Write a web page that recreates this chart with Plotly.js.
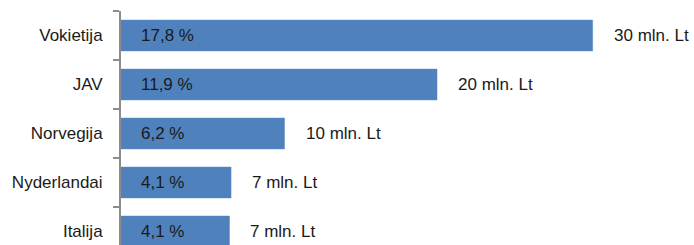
<!DOCTYPE html>
<html>
<head>
<meta charset="utf-8">
<script src="https://cdn.plot.ly/plotly-3.0.1.min.js"></script>
<style>html,body{margin:0;padding:0;background:#fff;}#chart{width:694px;height:245px;}</style>
</head>
<body>
<div id="chart"></div>
<script>
var categories = ["Vokietija", "JAV", "Norvegija", "Nyderlandai", "Italija"];
var values = [30, 20.1, 10.4, 7.0, 6.9];
var shareLabels = ["17,8 %", "11,9 %", "6,2 %", "4,1 %", "4,1 %"];
var valueLabels = ["30 mln. Lt", "20 mln. Lt", "10 mln. Lt", "7 mln. Lt", "7 mln. Lt"];

var FONT = "Liberation Sans Narrow, Arial Narrow, Liberation Sans, Arial, sans-serif";
var FS = 17;
var annotations = [];
for (var i = 0; i < categories.length; i++) {
  annotations.push({x: 0, y: categories[i], xref: "x", yref: "y", text: shareLabels[i],
    showarrow: false, xanchor: "left", yanchor: "middle", xshift: 18,
    font: {family: FONT, size: FS, color: "#1a1a1a"}});
  annotations.push({x: values[i], y: categories[i], xref: "x", yref: "y", text: valueLabels[i],
    showarrow: false, xanchor: "left", yanchor: "middle", xshift: 19,
    font: {family: FONT, size: FS, color: "#1a1a1a"}});
}

var trace = {
  type: "bar", orientation: "h",
  x: values, y: categories,
  marker: {color: "#4F81BD", line: {color: "#5B8CC6", width: 0.5}},
  hoverinfo: "none"
};

var layout = {
  width: 694, height: 245,
  margin: {l: 121, r: 7, t: 11, b: 0, pad: 0},
  paper_bgcolor: "#fff", plot_bgcolor: "#fff",
  showlegend: false,
  bargap: 0.37,
  xaxis: {range: [0, 36], visible: false, fixedrange: true},
  yaxis: {
    type: "category", range: [4.276, -0.5],
    showline: true, linecolor: "#8c8c8c", linewidth: 2,
    ticks: "outside", ticklen: 6, tickcolor: "#8c8c8c", tickwidth: 1.5,
    tickson: "boundaries", showgrid: false, zeroline: false,
    ticklabelstandoff: 13,
    tickfont: {family: FONT, size: FS, color: "#1a1a1a"},
    fixedrange: true
  },
  annotations: annotations
};

Plotly.newPlot("chart", [trace], layout, {displayModeBar: false, staticPlot: true});
</script>
</body>
</html>
